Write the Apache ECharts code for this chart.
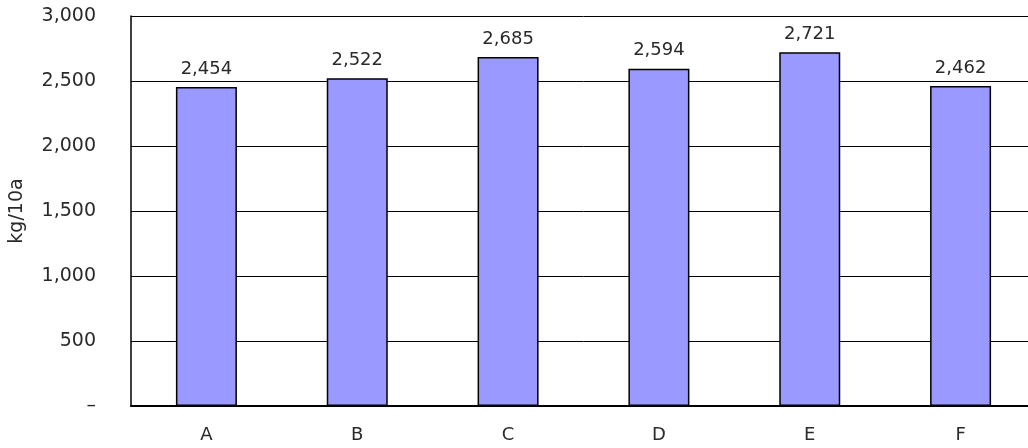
<!DOCTYPE html>
<html>
<head>
<meta charset="utf-8">
<script src="https://cdn.jsdelivr.net/npm/echarts@6/dist/echarts.min.js"></script>
<style>
  html, body { margin: 0; padding: 0; background: #fff; overflow: hidden; }
  #chart { width: 1036px; height: 448px; }
</style>
</head>
<body>
<div id="chart"></div>
<script>
// Yield per 10a for each plot
const categories = ['A', 'B', 'C', 'D', 'E', 'F'];
const yieldValues = [2454, 2522, 2685, 2594, 2721, 2462];
const yTicks = [0, 500, 1000, 1500, 2000, 2500, 3000];
const yAxisName = 'kg/10a';

const FONT = '"DejaVu Sans", sans-serif';
const TEXT = '#2a2a2a';
const fmt = v => v === 0 ? '–' : v.toLocaleString('en-US');

const chart = echarts.init(document.getElementById('chart'), null, { renderer: 'canvas' });
chart.setOption({
  animation: false,
  backgroundColor: '#fff',
  grid: { left: 130, right: 0, top: 16, bottom: 42, containLabel: false },
  xAxis: {
    type: 'category',
    data: categories,
    axisLine: { lineStyle: { color: '#000', width: 2 } },
    axisTick: { inside: true, length: 7, alignWithLabel: false, lineStyle: { color: '#444', width: 1 } },
    axisLabel: { color: TEXT, fontFamily: FONT, fontSize: 18, margin: 20 },
    splitLine: { show: false }
  },
  yAxis: {
    type: 'value',
    min: yTicks[0],
    max: yTicks[yTicks.length - 1],
    interval: 500,
    name: yAxisName,
    nameLocation: 'middle',
    nameGap: 104,
    nameRotate: 90,
    nameTextStyle: { color: TEXT, fontFamily: FONT, fontSize: 19 },
    axisLine: { show: true, lineStyle: { color: '#000', width: 1.5 } },
    axisTick: { show: false },
    axisLabel: { color: TEXT, fontFamily: FONT, fontSize: 19, margin: 35, formatter: fmt },
    splitLine: { lineStyle: { color: '#000', width: 1 } }
  },
  series: [{
    type: 'bar',
    data: yieldValues,
    barWidth: 61,
    itemStyle: { color: '#9999FF', borderColor: '#000', borderWidth: 1.5 },
    label: {
      show: true,
      position: 'top',
      distance: 9,
      color: TEXT,
      fontFamily: FONT,
      fontSize: 18,
      formatter: p => fmt(p.value)
    }
  }]
});
</script>
</body>
</html>
